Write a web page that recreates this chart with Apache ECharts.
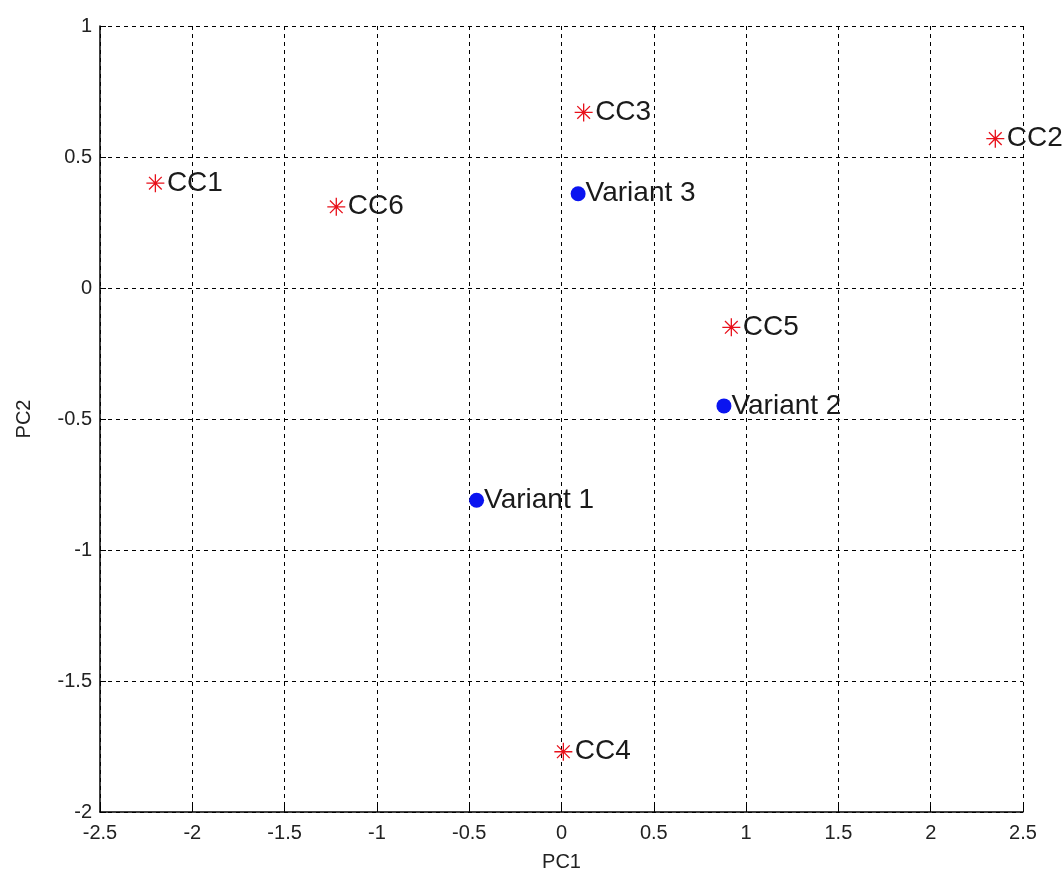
<!DOCTYPE html>
<html>
<head>
<meta charset="utf-8">
<script src="https://cdn.jsdelivr.net/npm/echarts@6/dist/echarts.min.js"></script>
<style>html,body{margin:0;padding:0;background:#fff;}#c{width:1064px;height:871px;}</style>
</head>
<body>
<div id="c"></div>
<script>
const ccNames = ['CC1','CC2','CC3','CC4','CC5','CC6'];
const ccX = [-2.20, 2.35, 0.12, 0.01, 0.92, -1.22];
const ccY = [0.40, 0.57, 0.67, -1.77, -0.15, 0.31];
const varNames = ['Variant 1','Variant 2','Variant 3'];
const varX = [-0.46, 0.88, 0.09];
const varY = [-0.81, -0.45, 0.36];

const chart = echarts.init(document.getElementById('c'));
const ff = '"Liberation Sans", Arial, sans-serif';
const star = 'path://M0,-10L0,10M-10,0L10,0M-7.07,-7.07L7.07,7.07M-7.07,7.07L7.07,-7.07';
const labelCfg = {show:true, position:'right', distance:0, formatter:p=>p.name, color:'#1a1a1a', fontSize:28, fontFamily:ff};
const axisCommon = {
  axisLine:{show:true, onZero:false, lineStyle:{color:'#000', width:1.5}},
  axisTick:{show:true, inside:true, length:6, lineStyle:{color:'#000'}},
  splitLine:{show:true, lineStyle:{color:'#000', type:[4,4], width:1}},
  nameTextStyle:{color:'#222', fontSize:20, fontFamily:ff}
};
chart.setOption({
  animation:false,
  backgroundColor:'#fff',
  grid:{left:100, right:41, top:26, bottom:59, containLabel:false, outerBoundsMode:'none'},
  xAxis:Object.assign({type:'value', min:-2.5, max:2.5, interval:0.5, name:'PC1', nameLocation:'middle', nameGap:40}, axisCommon, {axisLabel:{color:'#222', fontSize:20, fontFamily:ff, margin:11}}),
  yAxis:Object.assign({type:'value', min:-2, max:1, interval:0.5, name:'PC2', nameLocation:'middle', nameGap:66}, axisCommon, {axisLabel:{color:'#222', fontSize:20, fontFamily:ff, margin:8}}),
  series:[
    {type:'scatter', symbol:star, symbolSize:18,
     itemStyle:{color:'none', borderColor:'#e8101a', borderWidth:1.3, opacity:1},
     label:labelCfg,
     data:ccNames.map((n,i)=>({name:n, value:[ccX[i], ccY[i]]}))},
    {type:'scatter', symbol:'circle', symbolSize:15,
     itemStyle:{color:'#0a14f0', opacity:1},
     label:labelCfg,
     data:varNames.map((n,i)=>({name:n, value:[varX[i], varY[i]]}))}
  ]
});
</script>
</body>
</html>
